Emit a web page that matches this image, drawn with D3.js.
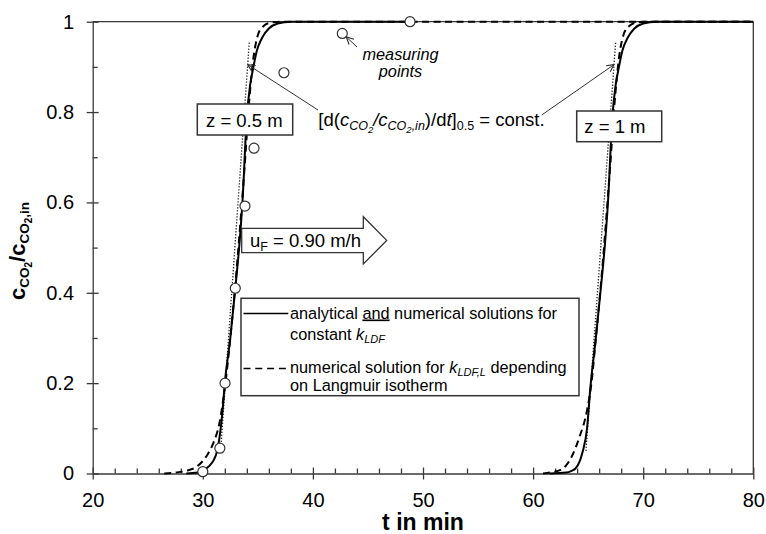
<!DOCTYPE html>
<html>
<head>
<meta charset="utf-8">
<script src="https://cdn.jsdelivr.net/npm/d3@7"></script>
<style>
  html, body { margin: 0; padding: 0; background: #fff; }
  svg { display: block; font-family: "Liberation Sans", Arial, sans-serif; }
</style>
</head>
<body>
<svg id="chart" width="766" height="534"></svg>
<script>
// Breakthrough curves of CO2 at two bed depths (t in min, c/c_in)

// axis ticks
const tTicks = [20, 30, 40, 50, 60, 70, 80];
const tTickLabels = ["20", "30", "40", "50", "60", "70", "80"];
const tMinor = [22, 24, 26, 28, 32, 34, 36, 38, 42, 44, 46, 48, 52, 54, 56, 58, 62, 64, 66, 68, 72, 74, 76, 78];
const cTicks = [0, 0.2, 0.4, 0.6, 0.8, 1];
const cTickLabels = ["0", "0.2", "0.4", "0.6", "0.8", "1"];
const cMinor = [0.1, 0.3, 0.5, 0.7, 0.9];

// z = 0.5 m, analytical/numerical solution, constant k_LDF
const solidHalfT = [28.5, 29.5, 30.0, 30.5, 31.0, 31.3, 31.6, 31.8, 32.0, 32.5, 32.95, 33.3, 33.6, 34.0, 34.3, 34.6, 34.9, 35.4, 36.0, 36.8, 38.0, 48.8];
const solidHalfC = [0, 0.002, 0.006, 0.015, 0.03, 0.05, 0.095, 0.14, 0.2, 0.3, 0.41, 0.5, 0.6, 0.79, 0.86, 0.9, 0.935, 0.965, 0.985, 0.996, 1, 1];

// z = 0.5 m, numerical solution, k_LDF,L from Langmuir isotherm
const dashHalfT = [26.5, 27.5, 28.5, 29.5, 30.5, 31.0, 31.5, 32.0, 32.5, 33.0, 33.4, 33.8, 34.2, 34.6, 35.0, 35.5, 36.2, 37.0, 80];
const dashHalfC = [0, 0.002, 0.006, 0.016, 0.045, 0.07, 0.11, 0.19, 0.3, 0.43, 0.55, 0.68, 0.82, 0.92, 0.97, 0.99, 0.998, 1, 1];

// z = 1 m, analytical/numerical solution, constant k_LDF
const solidOneT = [61.5, 63.0, 63.5, 63.85, 64.2, 64.5, 64.9, 65.2, 65.7, 66.15, 66.5, 66.8, 67.2, 67.5, 67.8, 68.1, 68.6, 69.2, 70.0, 71.2, 80];
const solidOneC = [0, 0.002, 0.006, 0.011, 0.025, 0.048, 0.1, 0.19, 0.3, 0.41, 0.5, 0.6, 0.79, 0.86, 0.9, 0.935, 0.965, 0.985, 0.996, 1, 1];

// z = 1 m, numerical solution, k_LDF,L from Langmuir isotherm
const dashOneT = [60.9, 61.7, 62.5, 63.0, 63.5, 64.2, 64.9, 65.3, 65.7, 66.2, 66.6, 67.0, 67.4, 67.8, 68.2, 68.7, 69.4, 70.2, 80];
const dashOneC = [0, 0.003, 0.008, 0.018, 0.037, 0.08, 0.14, 0.2, 0.3, 0.43, 0.55, 0.68, 0.82, 0.92, 0.97, 0.99, 0.998, 1, 1];

// tangents at c/c_in = 0.5 (constant slope)
const tangentHalfT = [31.62, 34.22];
const tangentHalfC = [0.05, 0.955];
const tangentOneT = [64.8, 67.5];
const tangentOneC = [0.05, 0.955];

// measuring points, z = 0.5 m
const measT = [30.0, 31.55, 32.02, 32.95, 33.83, 34.65, 37.37, 42.67, 48.82];
const measC = [0.004, 0.056, 0.2, 0.41, 0.592, 0.72, 0.887, 0.974, 1.0];

const svg = d3.select("#chart");
const ink = "#000";
const frame = "#3a3a3a";

const x = d3.scaleLinear().domain([20, 80]).range([92.7, 753.3]);
const y = d3.scaleLinear().domain([0, 1]).range([473.5, 21.7]);
const zip = (a, b) => a.map((v, i) => [v, b[i]]);

const defs = svg.append("defs");
defs.append("marker")
  .attr("id", "head")
  .attr("viewBox", "0 0 10 10")
  .attr("refX", 9).attr("refY", 5)
  .attr("markerWidth", 9).attr("markerHeight", 9)
  .attr("markerUnits", "userSpaceOnUse")
  .attr("orient", "auto")
  .append("path")
  .attr("d", "M1,1 L9,5 L1,9")
  .attr("fill", "none").attr("stroke", "#333").attr("stroke-width", 1.3);

// frame lines (top and right)
svg.append("line")
  .attr("x1", x(20)).attr("x2", x(80)).attr("y1", y(1)).attr("y2", y(1))
  .attr("stroke", frame).attr("stroke-width", 1.3);
svg.append("line")
  .attr("x1", x(80)).attr("x2", x(80)).attr("y1", y(1)).attr("y2", y(0))
  .attr("stroke", frame).attr("stroke-width", 1.3);

// y axis
const gy = svg.append("g").attr("transform", `translate(${x(20)},0)`)
  .call(d3.axisLeft(y).tickValues(cTicks).tickFormat((d, i) => cTickLabels[i]).tickSize(6).tickSizeOuter(0));
gy.selectAll(".tick line").attr("x1", 6).attr("x2", -6);
gy.attr("font-size", null).attr("font-family", null);
gy.selectAll(".tick text").attr("x", -18.7).attr("font-size", 20).attr("fill", ink);
const gyMinor = svg.append("g").attr("transform", `translate(${x(20)},0)`)
  .call(d3.axisLeft(y).tickValues(cMinor).tickFormat("").tickSize(-5).tickSizeOuter(0));
gyMinor.select(".domain").remove();

// x axis
const gx = svg.append("g").attr("transform", `translate(0,${y(0)})`)
  .call(d3.axisBottom(x).tickValues(tTicks).tickFormat((d, i) => tTickLabels[i]).tickSize(6).tickSizeOuter(0));
gx.selectAll(".tick line").attr("y1", -6).attr("y2", 6);
gx.attr("font-size", null).attr("font-family", null);
gx.selectAll(".tick text").attr("y", 19).attr("font-size", 20).attr("fill", ink);
const gxMinor = svg.append("g").attr("transform", `translate(0,${y(0)})`)
  .call(d3.axisBottom(x).tickValues(tMinor).tickFormat("").tickSize(-5).tickSizeOuter(0));
gxMinor.select(".domain").remove();

svg.selectAll(".domain, .tick line").attr("stroke", frame).attr("stroke-width", 1.3);

// curves
const line = d3.line().x(d => x(d[0])).y(d => y(d[1])).curve(d3.curveMonotoneX);
const straight = d3.line().x(d => x(d[0])).y(d => y(d[1]));

const curves = svg.append("g").attr("fill", "none");
curves.append("path").attr("d", straight(zip(tangentHalfT, tangentHalfC)))
  .attr("stroke", "#222").attr("stroke-width", 1.3).attr("stroke-dasharray", "1.3,1.7");
curves.append("path").attr("d", straight(zip(tangentOneT, tangentOneC)))
  .attr("stroke", "#222").attr("stroke-width", 1.3).attr("stroke-dasharray", "1.3,1.7");
curves.append("path").attr("d", line(zip(dashHalfT, dashHalfC)))
  .attr("stroke", ink).attr("stroke-width", 2).attr("stroke-dasharray", "7,4.5");
curves.append("path").attr("d", line(zip(dashOneT, dashOneC)))
  .attr("stroke", ink).attr("stroke-width", 2).attr("stroke-dasharray", "7,4.5");
curves.append("path").attr("d", line(zip(solidHalfT, solidHalfC)))
  .attr("stroke", ink).attr("stroke-width", 2);
curves.append("path").attr("d", line(zip(solidOneT, solidOneC)))
  .attr("stroke", ink).attr("stroke-width", 2);

// measuring points
svg.append("g").selectAll("circle")
  .data(zip(measT, measC))
  .join("circle")
  .attr("cx", d => x(d[0])).attr("cy", d => y(d[1])).attr("r", 5)
  .attr("fill", "#fff").attr("stroke", "#333").attr("stroke-width", 1.2);

// "measuring points" note
const mp = svg.append("text").attr("font-size", 16.3).attr("font-style", "italic")
  .attr("text-anchor", "middle").attr("fill", ink);
mp.append("tspan").attr("x", 400.5).attr("y", 60).text("measuring");
mp.append("tspan").attr("x", 400.5).attr("y", 76.5).text("points");
svg.append("line")
  .attr("x1", 357).attr("y1", 47).attr("x2", x(42.67) + 4).attr("y2", y(0.974) + 3.5)
  .attr("stroke", "#333").attr("stroke-width", 1).attr("marker-end", "url(#head)");

// slope annotation
const ann = svg.append("text").attr("x", 318.3).attr("y", 125.5).attr("font-size", 18.5).attr("fill", ink);
ann.append("tspan").text("[d(");
ann.append("tspan").attr("font-style", "italic").text("c");
ann.append("tspan").attr("font-style", "italic").attr("font-size", 12.5).attr("dy", 4).text("CO");
ann.append("tspan").attr("font-style", "italic").attr("font-size", 9.5).attr("dy", 3).text("2");
ann.append("tspan").attr("font-style", "italic").attr("dy", -7).text("/c");
ann.append("tspan").attr("font-style", "italic").attr("font-size", 12.5).attr("dy", 4).text("CO");
ann.append("tspan").attr("font-style", "italic").attr("font-size", 9.5).attr("dy", 3).text("2");
ann.append("tspan").attr("font-style", "italic").attr("font-size", 12.5).attr("dy", -3).text(",in");
ann.append("tspan").attr("dy", -4).text(")/d");
ann.append("tspan").attr("font-style", "italic").text("t");
ann.append("tspan").text("]");
ann.append("tspan").attr("font-size", 12.5).attr("dy", 4).text("0.5");
ann.append("tspan").attr("dy", -4).text(" = const.");

svg.append("line")
  .attr("x1", 318).attr("y1", 110).attr("x2", x(34.08)).attr("y2", y(0.905))
  .attr("stroke", "#333").attr("stroke-width", 1).attr("marker-end", "url(#head)");
svg.append("line")
  .attr("x1", 541.7).attr("y1", 115).attr("x2", x(67.35)).attr("y2", y(0.905))
  .attr("stroke", "#333").attr("stroke-width", 1).attr("marker-end", "url(#head)");

// bed depth labels
function boxLabel(bx, by, bw, bh, tx, ty, label) {
  svg.append("rect").attr("x", bx).attr("y", by).attr("width", bw).attr("height", bh)
    .attr("fill", "#fff").attr("stroke", "#333").attr("stroke-width", 1.5);
  svg.append("text").attr("x", tx).attr("y", ty).attr("font-size", 18.5).attr("fill", ink).text(label);
}
boxLabel(197.3, 104, 95.4, 31, 206, 126.7, "z = 0.5 m");
boxLabel(576.7, 111, 85, 30.7, 584.3, 132.7, "z = 1 m");

// flow velocity arrow
const ax0 = 241.7, ax1 = 363.3, atip = 386.7, ay = 240.4;
svg.append("path")
  .attr("d", `M${ax0},228.3 L${ax1},228.3 L${ax1},216.7 L${atip},${ay} L${ax1},264 L${ax1},252.7 L${ax0},252.7 Z`)
  .attr("fill", "#fff").attr("stroke", "#333").attr("stroke-width", 1.3);
const uf = svg.append("text").attr("x", 250).attr("y", 246.7).attr("font-size", 18.5).attr("fill", ink);
uf.append("tspan").text("u");
uf.append("tspan").attr("font-size", 12.5).attr("dy", 4).text("F");
uf.append("tspan").attr("dy", -4).text(" = 0.90 m/h");

// legend
const lg = svg.append("g");
lg.append("rect").attr("x", 241).attr("y", 298.3).attr("width", 338).attr("height", 97.4)
  .attr("fill", "#fff").attr("stroke", "#333").attr("stroke-width", 1.5);
lg.append("line").attr("x1", 243.5).attr("x2", 288.3).attr("y1", 313.5).attr("y2", 313.5)
  .attr("stroke", ink).attr("stroke-width", 1.6);
lg.append("line").attr("x1", 243.5).attr("x2", 288.3).attr("y1", 368.5).attr("y2", 368.5)
  .attr("stroke", ink).attr("stroke-width", 1.6).attr("stroke-dasharray", "7,4.8");
const lt = lg.append("g").attr("font-size", 16.3).attr("fill", ink);
const l1 = lt.append("text").attr("x", 290).attr("y", 318.5);
l1.append("tspan").text("analytical ");
l1.append("tspan").attr("text-decoration", "underline").text("and");
l1.append("tspan").text(" numerical solutions for");
const l2 = lt.append("text").attr("x", 290).attr("y", 339.5);
l2.append("tspan").text("constant ");
l2.append("tspan").attr("font-style", "italic").text("k");
l2.append("tspan").attr("font-style", "italic").attr("font-size", 11).attr("dy", 3.5).text("LDF");
const l3 = lt.append("text").attr("x", 290).attr("y", 372.5);
l3.append("tspan").text("numerical solution for ");
l3.append("tspan").attr("font-style", "italic").text("k");
l3.append("tspan").attr("font-style", "italic").attr("font-size", 11).attr("dy", 3.5).text("LDF,L");
l3.append("tspan").attr("dy", -3.5).text(" depending");
lt.append("text").attr("x", 290).attr("y", 390.5).text("on Langmuir isotherm");

// axis titles
svg.append("text").attr("x", x(50)).attr("y", 530).attr("text-anchor", "middle")
  .attr("font-size", 23).attr("font-weight", "bold").attr("fill", ink).text("t in min");

const yt = svg.append("text").attr("transform", "translate(25,251) rotate(-90)")
  .attr("text-anchor", "middle").attr("font-weight", "bold").attr("font-size", 22).attr("fill", ink);
yt.append("tspan").text("c");
yt.append("tspan").attr("font-size", 13.5).attr("dy", 4).text("CO");
yt.append("tspan").attr("font-size", 10).attr("dy", 3).text("2");
yt.append("tspan").attr("dy", -7).text("/c");
yt.append("tspan").attr("font-size", 13.5).attr("dy", 4).text("CO");
yt.append("tspan").attr("font-size", 10).attr("dy", 3).text("2");
yt.append("tspan").attr("font-size", 13.5).attr("dy", -3).text(",in");
</script>
</body>
</html>
